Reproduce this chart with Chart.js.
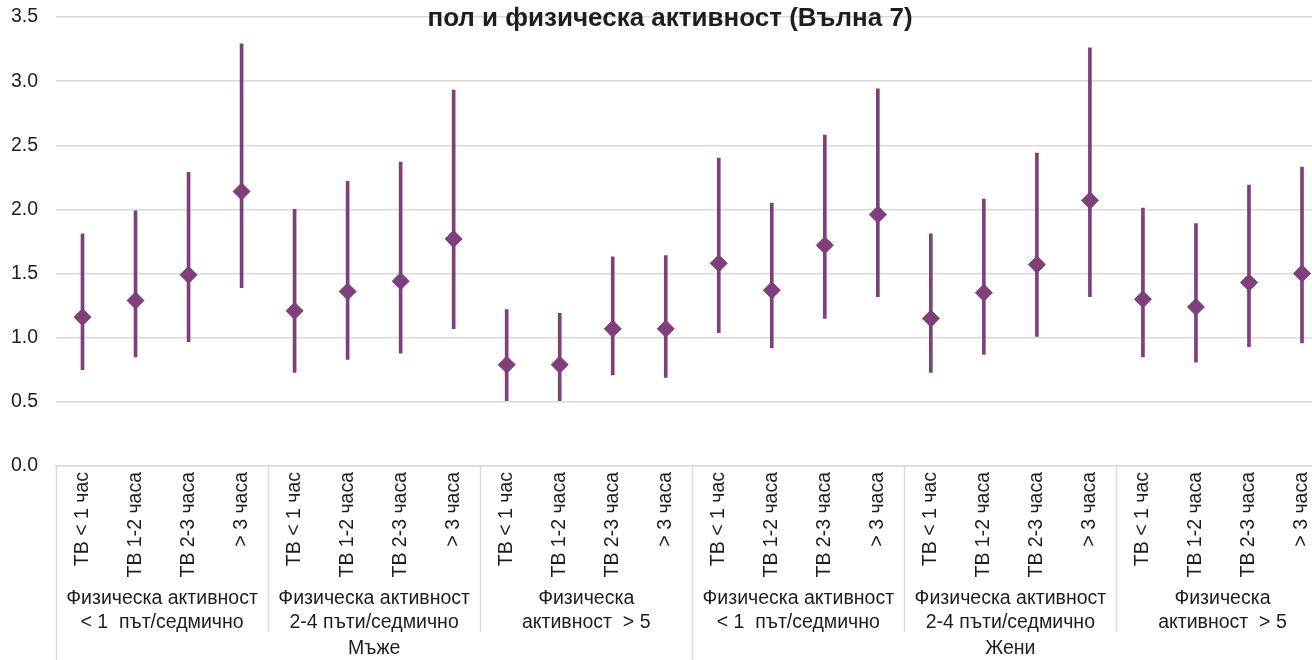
<!DOCTYPE html>
<html>
<head>
<meta charset="utf-8">
<script src="https://cdn.jsdelivr.net/npm/chart.js@4.4.0/dist/chart.umd.min.js"></script>
<style>
  html, body { margin: 0; padding: 0; background: #fff; overflow: hidden; }
  #wrap { width: 1312px; height: 660px; overflow: hidden; position: relative; }
  #chart { position: absolute; left: 0; top: 0; }
</style>
</head>
<body>
<div id="wrap"><canvas id="chart" width="1338" height="660" style="width:1338px;height:660px"></canvas></div>
<script>
// Category labels (TV time), repeated for each activity group
var tvLabels = ['ТВ < 1 час', 'ТВ 1-2 часа', 'ТВ 2-3 часа', '> 3 часа'];
var activityGroups = [
    ['Физическа активност', '< 1  път/седмично'],
    ['Физическа активност', '2-4 пъти/седмично'],
    ['Физическа', 'активност  > 5'],
    ['Физическа активност', '< 1  път/седмично'],
    ['Физическа активност', '2-4 пъти/седмично'],
    ['Физическа', 'активност  > 5']
];
var sexGroups = ['Мъже', 'Жени'];

// Point estimates and confidence intervals
var means = [1.16, 1.29, 1.49, 2.14, 1.21, 1.36, 1.44, 1.77,
             0.79, 0.79, 1.07, 1.07, 1.58, 1.37, 1.72, 1.96,
             1.15, 1.35, 1.57, 2.07, 1.30, 1.24, 1.43, 1.50];
var lower = [0.75, 0.85, 0.97, 1.39, 0.73, 0.83, 0.88, 1.07,
             0.51, 0.51, 0.71, 0.69, 1.04, 0.92, 1.15, 1.32,
             0.73, 0.87, 1.01, 1.32, 0.85, 0.81, 0.93, 0.96];
var upper = [1.81, 1.99, 2.29, 3.29, 2.00, 2.22, 2.37, 2.93,
             1.22, 1.19, 1.63, 1.64, 2.40, 2.05, 2.58, 2.94,
             1.81, 2.08, 2.44, 3.26, 2.01, 1.89, 2.19, 2.33];
var yTicks = [0, 0.5, 1, 1.5, 2, 2.5, 3, 3.5];

var titleText = 'пол и физическа активност (Вълна 7)';

var purple = '#7f3f7a';
var gridColor = '#d9d9d9';
var textColor = '#1e1e1e';

Chart.defaults.font.family = '"Liberation Sans", Arial, sans-serif';
Chart.defaults.color = textColor;

var labels = [];
activityGroups.forEach(function() { labels = labels.concat(tvLabels); });

var intervals = lower.map(function(lo, i) { return [lo, upper[i]]; });

// Draws group labels, separators and the title over the chart
var groupPlugin = {
    id: 'groups',
    afterDraw: function(chart) {
        var ctx = chart.ctx;
        var x = chart.scales.x;
        var top = chart.chartArea.bottom;
        var n = tvLabels.length;
        ctx.save();
        ctx.strokeStyle = gridColor;
        ctx.lineWidth = 1.5;
        // separators
        for (var g = 0; g <= activityGroups.length; g++) {
            var px = Math.round(x.getPixelForValue(g * n - 0.5)) + 0.5;
            var outer = (g % 3 === 0);
            ctx.beginPath();
            ctx.moveTo(px, top);
            ctx.lineTo(px, outer ? 660 : 632);
            ctx.stroke();
        }
        ctx.fillStyle = textColor;
        ctx.textAlign = 'center';
        ctx.textBaseline = 'middle';
        ctx.font = '19.5px "Liberation Sans", Arial, sans-serif';
        activityGroups.forEach(function(lines, g) {
            var cx = (x.getPixelForValue(g * n - 0.5) + x.getPixelForValue(g * n + n - 0.5)) / 2;
            ctx.fillText(lines[0], cx, 599);
            ctx.fillText(lines[1], cx, 623);
        });
        sexGroups.forEach(function(s, g) {
            var cx = (x.getPixelForValue(g * 12 - 0.5) + x.getPixelForValue(g * 12 + 12 - 0.5)) / 2;
            ctx.fillText(s, cx, 649);
        });
        // title sits over the top gridline
        ctx.font = 'bold 26px "Liberation Sans", Arial, sans-serif';
        ctx.fillText(titleText, 670, 19);
        ctx.restore();
    }
};

var ctx = document.getElementById('chart').getContext('2d');
var myChart = new Chart(ctx, {
    type: 'bar',
    data: {
        labels: labels,
        datasets: [{
            type: 'line',
            data: means,
            showLine: false,
            pointStyle: 'rectRot',
            pointRadius: 8.5,
            pointBackgroundColor: purple,
            pointBorderColor: purple,
            pointBorderWidth: 1,
            order: 0
        }, {
            data: intervals,
            backgroundColor: purple,
            borderWidth: 0,
            barThickness: 3,
            borderSkipped: false,
            order: 1
        }]
    },
    options: {
        responsive: false,
        animation: false,
        layout: { padding: { top: 17, right: 0, left: 0, bottom: 0 } },
        scales: {
            x: {
                grid: { display: false, drawTicks: false },
                border: { display: true, color: gridColor, width: 1.5 },
                ticks: {
                    autoSkip: false,
                    minRotation: 90,
                    maxRotation: 90,
                    padding: 6,
                    font: { size: 19.5 }
                },
                afterFit: function(scale) { scale.height = 194; }
            },
            y: {
                min: 0,
                max: 3.5,
                afterBuildTicks: function(scale) {
                    scale.ticks = yTicks.map(function(v) { return { value: v }; });
                },
                grid: { color: gridColor, lineWidth: 1.5, drawTicks: false },
                border: { display: false },
                ticks: {
                    padding: 18,
                    font: { size: 19.5 },
                    callback: function(v) { return Number(v).toFixed(1); }
                },
                afterFit: function(scale) {
                    scale.width = 56;
                    scale.paddingTop = 0;
                    scale.paddingBottom = 0;
                }
            }
        },
        plugins: {
            legend: { display: false },
            tooltip: { enabled: false },
            title: { display: false }
        }
    },
    plugins: [groupPlugin]
});
</script>
</body>
</html>
